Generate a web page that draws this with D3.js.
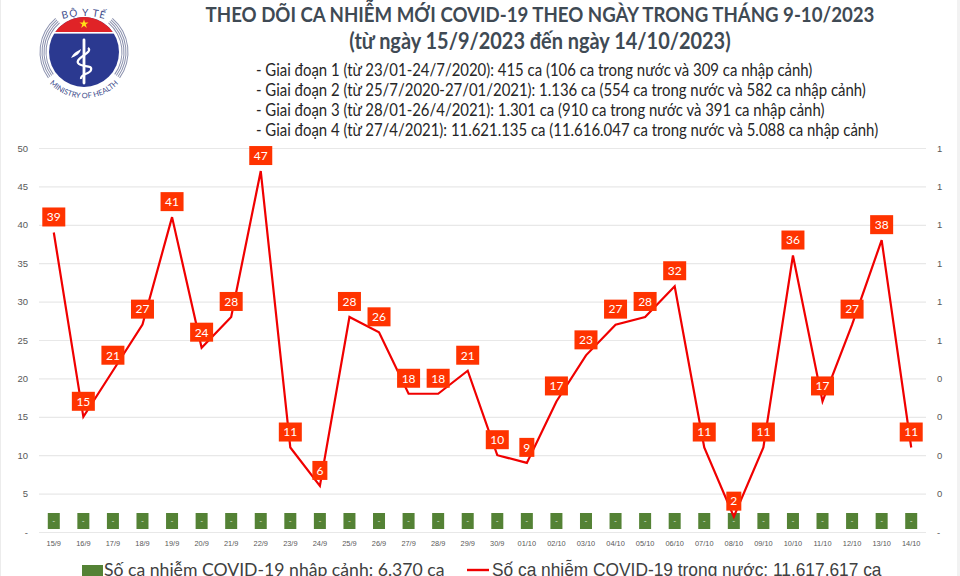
<!DOCTYPE html>
<html>
<head>
<meta charset="utf-8">
<script src="https://cdnjs.cloudflare.com/ajax/libs/d3/7.8.5/d3.min.js"></script>
<style>
  html, body { margin: 0; padding: 0; background: #fff; overflow: hidden; }
  svg { display: block; font-family: Lato, "Noto Sans", sans-serif; }
</style>
</head>
<body>
<script>
var days = ["15/9","16/9","17/9","18/9","19/9","20/9","21/9","22/9","23/9","24/9","25/9","26/9","27/9","28/9","29/9","30/9",
  "01/10","02/10","03/10","04/10","05/10","06/10","07/10","08/10","09/10","10/10","11/10","12/10","13/10","14/10"]
var domestic = [39,15,21,27,41,24,28,47,11,6,28,26,18,18,21,10,9,17,23,27,28,32,11,2,11,36,17,27,38,11]
var imported = [0,0,0,0,0,0,0,0,0,0,0,0,0,0,0,0,0,0,0,0,0,0,0,0,0,0,0,0,0,0]
var leftTicks = [0,5,10,15,20,25,30,35,40,45,50]
var rightTicks = [0,0.1,0.2,0.3,0.4,0.5,0.6,0.7,0.8,0.9,1]
var titleLines = ["THEO DÕI CA NHIỄM MỚI COVID-19 THEO NGÀY TRONG THÁNG 9-10/2023",
  "(từ ngày 15/9/2023 đến ngày 14/10/2023)"]
var phases = ["- Giai đoạn 1 (từ 23/01-24/7/2020): 415 ca (106 ca trong nước và 309 ca nhập cảnh)",
  "- Giai đoạn 2 (từ 25/7/2020-27/01/2021): 1.136 ca (554 ca trong nước và 582 ca nhập cảnh)",
  "- Giai đoạn 3 (từ 28/01-26/4/2021): 1.301 ca (910 ca trong nước và 391 ca nhập cảnh)",
  "- Giai đoạn 4 (từ 27/4/2021): 11.621.135 ca (11.616.047 ca trong nước và 5.088 ca nhập cảnh)"]
var legendImported = "Số ca nhiễm COVID-19 nhập cảnh: 6.370 ca"
var legendDomestic = "Số ca nhiễm COVID-19 trong nước: 11.617.617 ca"

var width = 960
var height = 576
var margin = { top: 148, right: 34, bottom: 44, left: 39 }

var svg = d3.select("body").append("svg")
  .attr("width", width)
  .attr("height", height)

svg.append("rect").attr("width", width).attr("height", height).attr("fill", "#fff")
svg.append("rect").attr("x", 957).attr("width", 3).attr("height", height).attr("fill", "#f2f2f2")
svg.append("rect").attr("width", 1).attr("height", height).attr("fill", "#ececec")

var x = d3.scaleBand().domain(days).range([margin.left, width - margin.right])
var y = d3.scaleLinear().domain([0, 50]).range([height - margin.bottom, margin.top])
var yRight = d3.scaleLinear().domain([0, 1]).range([height - margin.bottom, margin.top])
var cx = function (d) { return x(d) + x.bandwidth() / 2 }

// axes
var gridAxis = svg.append("g")
  .attr("transform", "translate(" + margin.left + ",0)")
  .call(d3.axisLeft(y).tickValues(leftTicks).tickSize(-(width - margin.left - margin.right)).tickPadding(11)
    .tickFormat(function (d) { return d === 0 ? "-" : d }))
gridAxis.select(".domain").remove()
gridAxis.selectAll("line").attr("stroke", "#e8e8e8").attr("stroke-width", 1.2)
gridAxis.selectAll("text").attr("fill", "#595959").attr("font-size", 9.5)

var rightAxis = svg.append("g")
  .attr("transform", "translate(" + (width - margin.right) + ",0)")
  .call(d3.axisRight(yRight).tickValues(rightTicks).tickSize(0).tickPadding(11)
    .tickFormat(function (d) { return d === 0 ? "-" : (d >= 0.5 ? "1" : "0") }))
rightAxis.select(".domain").remove()
rightAxis.selectAll("text").attr("fill", "#595959").attr("font-size", 9.5)

var xAxis = svg.append("g")
  .attr("transform", "translate(0," + (height - margin.bottom) + ")")
  .call(d3.axisBottom(x).tickSize(0).tickPadding(9))
xAxis.select(".domain").remove()
xAxis.selectAll("text").attr("fill", "#595959").attr("font-size", 7.4)

// imported cases: all zero, only their label boxes show
var importedG = svg.append("g").selectAll("g")
  .data(days)
  .join("g")
  .attr("transform", function (d, i) { return "translate(" + cx(d) + "," + (y(imported[i]) - 11) + ")" })
importedG.append("rect")
  .attr("x", -6).attr("y", -8).attr("width", 12).attr("height", 16)
  .attr("fill", "#548235")
importedG.append("text")
  .attr("text-anchor", "middle").attr("dy", "0.35em")
  .attr("fill", "#dfe8d8").attr("font-size", 8)
  .text("-")

// domestic cases line
var line = d3.line()
  .x(function (d, i) { return cx(days[i]) })
  .y(function (d) { return y(d) })

svg.append("path")
  .datum(domestic)
  .attr("fill", "none")
  .attr("stroke", "#f00000")
  .attr("stroke-width", 2.2)
  .attr("d", line)

var labels = svg.append("g").selectAll("g")
  .data(domestic)
  .join("g")
  .attr("transform", function (d, i) { return "translate(" + cx(days[i]) + "," + (y(d) - 15.5) + ")" })
labels.append("rect")
  .attr("x", function (d) { return d < 10 ? -7.5 : -11.5 })
  .attr("y", -9.5)
  .attr("width", function (d) { return d < 10 ? 15 : 23 })
  .attr("height", 19)
  .attr("fill", "#ff3300")
labels.append("text")
  .attr("text-anchor", "middle").attr("dy", "0.36em")
  .attr("fill", "#fff").attr("font-size", 12)
  .text(function (d) { return d })

// title and phases, narrowed a bit to get the Calibri look
svg.selectAll(".title")
  .data(titleLines)
  .join("text")
  .attr("class", "title")
  .attr("transform", function (d, i) { return "translate(540," + (22 + i * 27) + ") scale(0.91,1)" })
  .attr("text-anchor", "middle")
  .attr("font-size", function (d, i) { return i === 0 ? 20.5 : 21.9 })
  .attr("font-weight", 700)
  .attr("fill", "#3f4a54")
  .text(function (d) { return d })

svg.selectAll(".phase")
  .data(phases)
  .join("text")
  .attr("class", "phase")
  .attr("transform", function (d, i) { return "translate(256," + (75.5 + i * 20) + ") scale(0.905,1)" })
  .attr("font-size", 16.5)
  .attr("fill", "#262626")
  .text(function (d) { return d })

// legend
svg.append("rect").attr("x", 82).attr("y", 565).attr("width", 21).attr("height", 11).attr("fill", "#548235")
svg.append("text").attr("transform", "translate(104,576) scale(0.98,1)").attr("font-size", 18).attr("fill", "#404040").text(legendImported)
svg.append("line").attr("x1", 467).attr("x2", 489).attr("y1", 570).attr("y2", 570).attr("stroke", "#f00000").attr("stroke-width", 2.4)
svg.append("text").attr("transform", "translate(492,575.5) scale(0.963,1)").attr("font-size", 18).attr("font-family", "Liberation Sans").attr("fill", "#404040").text(legendDomestic)

// ministry logo
var logo = svg.append("g").attr("transform", "translate(84,52)")
var arc = d3.arc()
;[38, 40, 42, 44].forEach(function (r) {
  ;[[-2.2, -0.7], [0.7, 2.2]].forEach(function (a) {
    logo.append("path")
      .attr("d", arc({ innerRadius: r - 0.5, outerRadius: r + 0.5, startAngle: a[0], endAngle: a[1] }))
      .attr("fill", "#8a90ad")
  })
})
logo.append("circle").attr("r", 35).attr("fill", "#2b3990")
logo.append("path")
  .attr("d", "M-29,-19.5 A35,35 0 0 1 29,-19.5 Z")
  .attr("fill", "#e02327")
logo.append("rect").attr("x", -30).attr("y", -20).attr("width", 60).attr("height", 1.6).attr("fill", "#fff")
logo.append("path")
  .attr("d", d3.symbol().type(d3.symbolStar).size(26)())
  .attr("transform", "translate(0,-28)")
  .attr("fill", "#ffde17")
logo.append("path")
  .attr("d", "M0,-12 L0,31")
  .attr("stroke", "#fff").attr("stroke-width", 2.8).attr("stroke-linecap", "round")
logo.append("path")
  .attr("d", "M4,-4 C10,0 -9,6 -6,11 C-3,16 9,12 7,18 C6,22 -4,22 -3,27")
  .attr("fill", "none").attr("stroke", "#fff").attr("stroke-width", 2.2)
logo.append("path")
  .attr("d", "M-13,6 C-10,0 -6,-1 -3,-3 C-4,2 -8,4 -13,6 Z")
  .attr("fill", "#fff")

var defs = svg.append("defs")
defs.append("path").attr("id", "logoTop").attr("d", "M60,20 Q84,12 108,20")
defs.append("path").attr("id", "logoBottom").attr("d", "M51,85 A48,48 0 0 0 117,85")
svg.append("text").attr("font-size", 10).attr("fill", "#3b4a8a").attr("text-anchor", "middle").attr("letter-spacing", 1)
  .append("textPath").attr("href", "#logoTop").attr("startOffset", "50%").text("BỘ Y TẾ")
svg.append("text").attr("font-size", 7.5).attr("fill", "#3b4a8a").attr("text-anchor", "middle")
  .append("textPath").attr("href", "#logoBottom").attr("startOffset", "50%").text("MINISTRY OF HEALTH")
</script>
</body>
</html>
